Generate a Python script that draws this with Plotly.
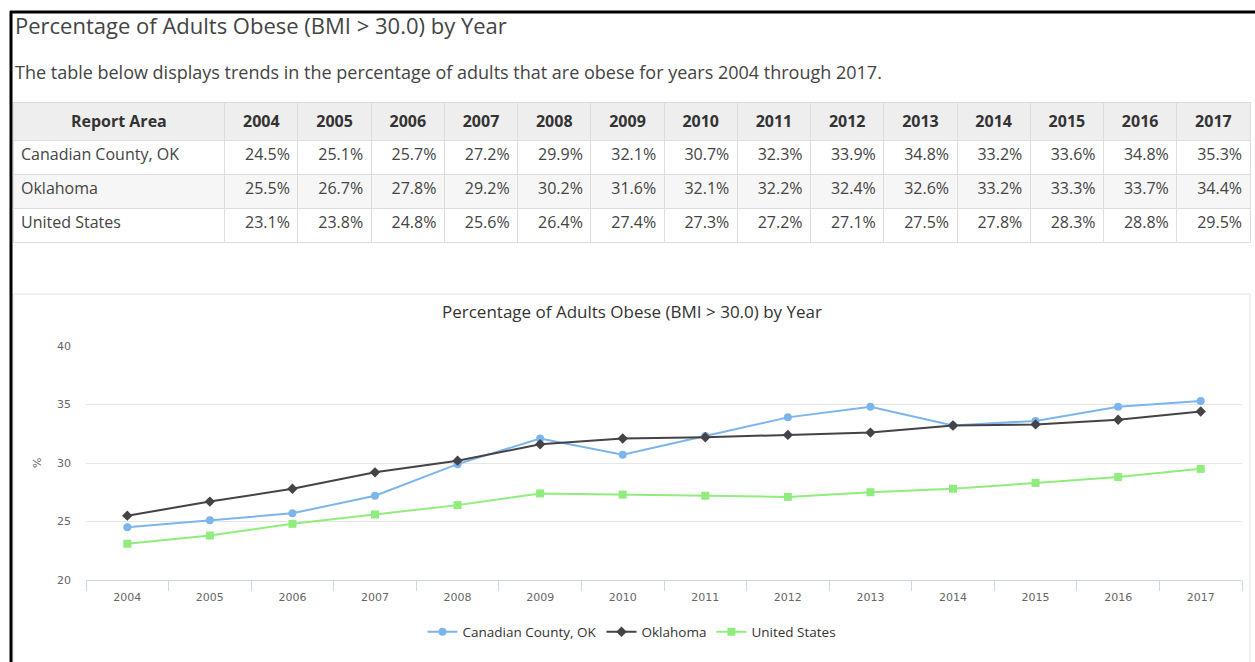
import plotly.graph_objects as go

W, H = 1255, 662

years = ["2004", "2005", "2006", "2007", "2008", "2009", "2010",
         "2011", "2012", "2013", "2014", "2015", "2016", "2017"]
areas = ["Canadian County, OK", "Oklahoma", "United States"]
canadian = [24.5, 25.1, 25.7, 27.2, 29.9, 32.1, 30.7, 32.3, 33.9, 34.8, 33.2, 33.6, 34.8, 35.3]
oklahoma = [25.5, 26.7, 27.8, 29.2, 30.2, 31.6, 32.1, 32.2, 32.4, 32.6, 33.2, 33.3, 33.7, 34.4]
united_states = [23.1, 23.8, 24.8, 25.6, 26.4, 27.4, 27.3, 27.2, 27.1, 27.5, 27.8, 28.3, 28.8, 29.5]
y_ticks = [20, 25, 30, 35, 40]

page_title = "Percentage of Adults Obese (BMI > 30.0) by Year"
page_desc = "The table below displays trends in the percentage of adults that are obese for years 2004 through 2017."
chart_title = "Percentage of Adults Obese (BMI > 30.0) by Year"


def px(x):
    return x / W


def py(y):
    return 1 - y / H


series = [canadian, oklahoma, united_states]

fig = go.Figure()

# ---- table ----
header_vals = ["<b>Report Area</b>"] + [f"<b>{y}</b>" for y in years]
cell_vals = [areas] + [[f"{s[i]}%" for s in series] for i in range(len(years))]
row_fill = ["#ffffff", "#f6f6f6", "#ffffff"]
fig.add_trace(go.Table(
    domain=dict(x=[px(13), px(1250)], y=[py(300), py(102)]),
    columnwidth=[211] + [73] * len(years),
    header=dict(values=header_vals, height=37,
                fill_color="#eeeeee",
                line=dict(color="#dddddd", width=1),
                align="center",
                font=dict(family="Open Sans", size=16, color="#333333")),
    cells=dict(values=cell_vals, height=34,
               fill_color=[row_fill] * (len(years) + 1),
               line=dict(color="#dddddd", width=1),
               align=["left"] + ["right"] * len(years),
               font=dict(family="Open Sans", size=16, color="#444444")),
))

# ---- chart ----
styles = [
    ("Canadian County, OK", "#7cb5ec", "circle", 8),
    ("Oklahoma", "#434348", "diamond", 8),
    ("United States", "#90ed7d", "square", 8),
]
for vals, (name, color, sym, size) in zip(series, styles):
    fig.add_trace(go.Scatter(
        x=years, y=vals, name=name, mode="lines+markers",
        line=dict(color=color, width=2),
        marker=dict(color=color, symbol=sym, size=size),
    ))

fig.update_layout(
    width=W, height=H,
    margin=dict(l=0, r=0, t=0, b=0, autoexpand=False),
    paper_bgcolor="white", plot_bgcolor="white",
    showlegend=True,
    legend=dict(orientation="h", x=px(632), xanchor="center",
                y=py(632), yanchor="middle",
                font=dict(family="Open Sans", size=13.5, color="#333333"),
                itemwidth=30, bgcolor="rgba(0,0,0,0)"),
    xaxis=dict(domain=[px(86), px(1242)], type="category",
               range=[-0.5, len(years) - 0.5],
               showgrid=False, showline=True, linecolor="#ccd6eb", linewidth=1,
               ticks="outside", tickson="boundaries", ticklen=10,
               tickcolor="#ccd6eb", ticklabelstandoff=7,
               tickfont=dict(family="DejaVu Sans", size=11, color="#666666"),
               fixedrange=True),
    yaxis=dict(domain=[py(580), py(346)], range=[20, 40],
               tickvals=y_ticks, showgrid=True, gridcolor="#e6e6e6",
               zeroline=False, showline=False, ticklabelstandoff=14,
               tickfont=dict(family="DejaVu Sans", size=11, color="#666666"),
               fixedrange=True),
    shapes=[
        # chart card
        dict(type="rect", xref="paper", yref="paper",
             x0=px(13), x1=px(1250), y0=py(665), y1=py(294),
             line=dict(color="#e3e3e3", width=1), layer="below"),
        # page border
        dict(type="line", xref="paper", yref="paper",
             x0=px(11), x1=px(11), y0=py(11), y1=py(665),
             line=dict(color="#000000", width=3)),
        dict(type="line", xref="paper", yref="paper",
             x0=px(10), x1=px(1256), y0=py(12), y1=py(12),
             line=dict(color="#000000", width=3)),
    ],
    annotations=[
        dict(text=page_title, xref="paper", yref="paper",
             x=px(13), y=py(25), xanchor="left", yanchor="middle",
             showarrow=False,
             font=dict(family="Open Sans", size=22, color="#444444")),
        dict(text=page_desc, xref="paper", yref="paper",
             x=px(13), y=py(72), xanchor="left", yanchor="middle",
             showarrow=False,
             font=dict(family="Open Sans", size=18, color="#444444")),
        dict(text=chart_title, xref="paper", yref="paper",
             x=px(632), y=py(311), xanchor="center", yanchor="middle",
             showarrow=False,
             font=dict(family="Open Sans", size=17, color="#333333")),
        dict(text="%", xref="paper", yref="paper",
             x=px(37), y=py(463), xanchor="center", yanchor="middle",
             textangle=-90, showarrow=False,
             font=dict(family="DejaVu Sans", size=11, color="#666666")),
    ],
)

fig.write_html("out.html", config={"displayModeBar": False},
               post_script="document.body.style.margin='0';document.body.style.overflow='hidden';")
